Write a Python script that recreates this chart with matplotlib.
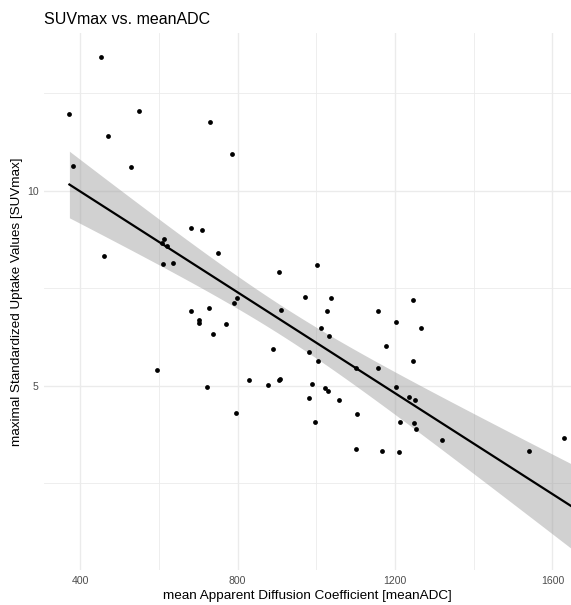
import numpy as np
import matplotlib
matplotlib.use("Agg")
import matplotlib.pyplot as plt
from matplotlib.ticker import FixedLocator

# Data
mean_adc = [373, 383, 453, 470, 549, 529, 462, 729, 785, 683,
            709, 613, 608, 621, 751, 612, 636, 906, 798, 790,
            910, 683, 728, 702, 701, 772, 739, 890, 596, 723,
            830, 878, 906, 908, 796, 1003, 972, 1038, 1245, 1028,
            1156, 1202, 1265, 1013, 1033, 1176, 981, 1005, 1246, 1101,
            1158, 990, 1021, 1031, 981, 1059, 1103, 998, 1203, 1235,
            1252, 1213, 1247, 1254, 1101, 1168, 1211, 1320, 1541, 1629]
suv_max = [11.97, 10.64, 13.42, 11.41, 12.04, 10.61, 8.33, 11.76, 10.95, 9.04,
           8.99, 8.77, 8.66, 8.59, 8.39, 8.11, 8.14, 7.90, 7.25, 7.11,
           6.94, 6.92, 7.00, 6.69, 6.60, 6.58, 6.31, 5.93, 5.41, 4.97,
           5.14, 5.01, 5.13, 5.17, 4.30, 8.09, 7.27, 7.25, 7.20, 6.92,
           6.92, 6.63, 6.48, 6.48, 6.27, 6.02, 5.86, 5.64, 5.63, 5.46,
           5.45, 5.03, 4.94, 4.86, 4.67, 4.62, 4.28, 4.07, 4.95, 4.70,
           4.63, 4.07, 4.05, 3.88, 3.38, 3.33, 3.29, 3.61, 3.33, 3.66]

x_major = [400, 800, 1200, 1600]
x_minor = [600, 1000, 1400]
y_major = [5, 10]
y_minor = [2.5, 7.5, 12.5]

title = "SUVmax vs. meanADC"
x_title = "mean Apparent Diffusion Coefficient [meanADC]"
y_title = "maximal Standardized Uptake Values [SUVmax]"

plt.rcParams['font.family'] = ['Liberation Sans', 'DejaVu Sans']

W, H = 571, 605
fig = plt.figure(figsize=(W / 100, H / 100), dpi=100)
ax = fig.add_axes([44 / W, 1 - 570 / H, 1 - 44 / W, (570 - 33) / H])

xlim = (308.5, 1647)
ylim = (0.27, 14.04)
ax.set_xlim(*xlim)
ax.set_ylim(*ylim)

# grid
for v in x_minor:
    ax.axvline(v, color='#ebebeb', lw=0.6, zorder=0)
for v in y_minor:
    ax.axhline(v, color='#ebebeb', lw=0.6, zorder=0)
for v in x_major:
    ax.axvline(v, color='#ebebeb', lw=1.0, zorder=0)
for v in y_major:
    ax.axhline(v, color='#ebebeb', lw=1.0, zorder=0)

x = np.asarray(mean_adc, dtype=float)
y = np.asarray(suv_max, dtype=float)

# linear model with 95% confidence band
n = len(x)
slope, intercept = np.polyfit(x, y, 1)
resid = y - (intercept + slope * x)
s = np.sqrt(np.sum(resid ** 2) / (n - 2))
xm = x.mean()
sxx = np.sum((x - xm) ** 2)
t_crit = 1.995
xs = np.linspace(x.min(), xlim[1], 200)
ys = intercept + slope * xs
se = s * np.sqrt(1 / n + (xs - xm) ** 2 / sxx)
ax.fill_between(xs, ys - t_crit * se, ys + t_crit * se, color='#999999',
                alpha=0.45, lw=0, zorder=1)
ax.plot(xs, ys, color='black', lw=1.6, zorder=3)

ax.scatter(x, y, s=12, color='black', lw=0, zorder=4)

ax.xaxis.set_major_locator(FixedLocator(x_major))
ax.yaxis.set_major_locator(FixedLocator(y_major))
ax.set_xticklabels([str(v) for v in x_major])
ax.set_yticklabels([str(v) for v in y_major])
ax.tick_params(axis='both', length=0, labelsize=7.6, labelcolor='#4d4d4d', pad=4)
for sp in ax.spines.values():
    sp.set_visible(False)

ax.set_xlabel(x_title, fontsize=9.7, labelpad=3)
ax.set_ylabel(y_title, fontsize=9.7, labelpad=3)
fig.text(44 / W, 1 - 19 / H, title, fontsize=11.5, ha='left', va='center')

fig.savefig("out.png", dpi=100)
